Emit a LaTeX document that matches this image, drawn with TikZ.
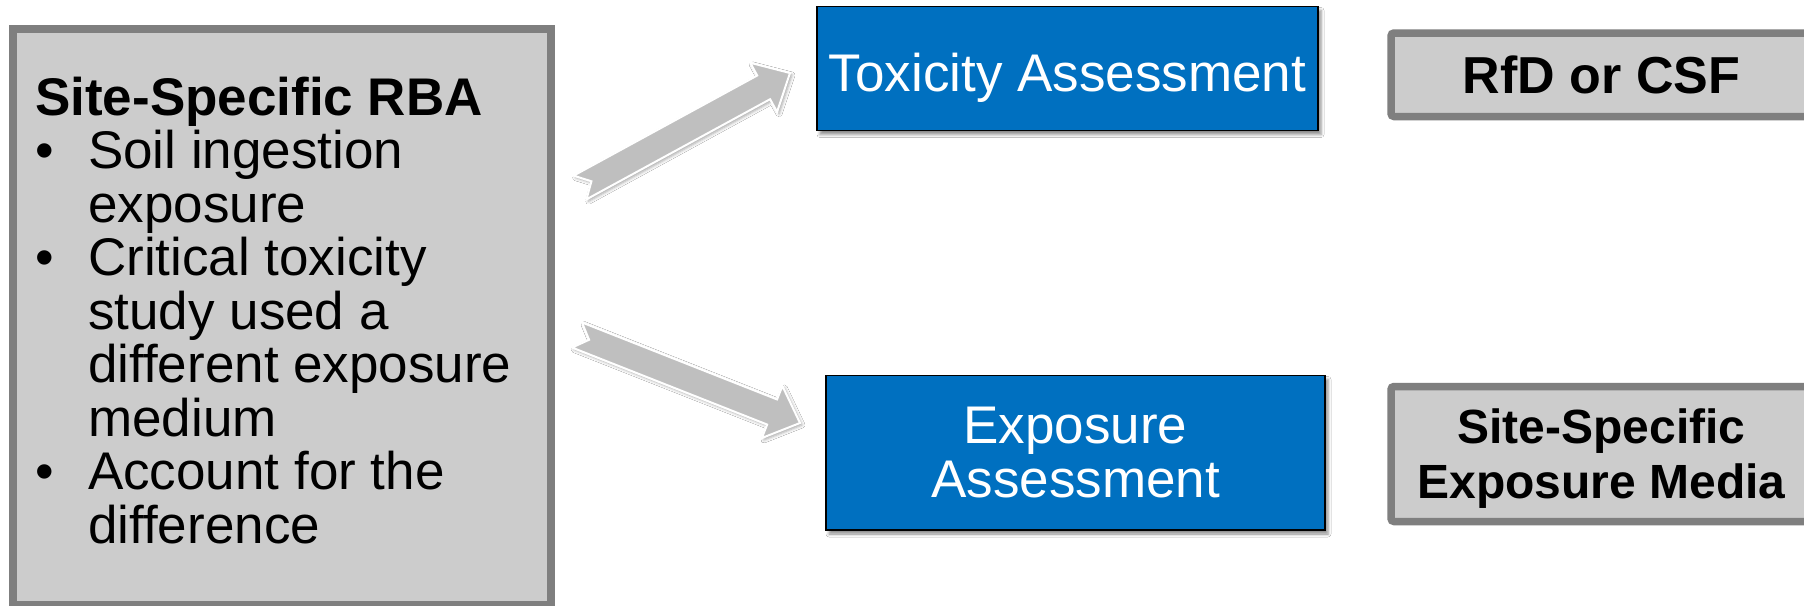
\documentclass[tikz,border=0pt]{standalone}
\usepackage{fontspec}
\setmainfont{Liberation Sans}
\usetikzlibrary{calc,shadows.blur}

\definecolor{boxgray}{HTML}{CCCCCC}
\definecolor{edgegray}{HTML}{7F7F7F}
\definecolor{assessblue}{HTML}{0070C0}
\definecolor{arrowgray}{HTML}{BFBFBF}

% bullet column of the left panel
\newcommand\rbabullet{\makebox[53pt][l]{\textbullet}}
\newcommand\rbaindent{\hspace*{53pt}}

% wide block arrow with a notched tail: #1 name, #2 tail, #3 tip
\newcommand\fatarrow[3]{%
  \coordinate (#1h) at ($(#3)!30pt!(#2)$);
  \path[blockarrow]
    ($(#2)!13.5pt!90:(#3)$) -- ($(#1h)!13.5pt!90:(#3)$) -- ($(#1h)!28pt!90:(#3)$)
    -- (#3)
    -- ($(#1h)!28pt!-90:(#3)$) -- ($(#1h)!13.5pt!-90:(#3)$) -- ($(#2)!13.5pt!-90:(#3)$)
    -- ($(#2)!13pt!(#3)$) -- cycle;
}

\tikzset{
  graybox/.style={draw=edgegray, fill=boxgray, line width=7.5pt, inner sep=0pt, align=center},
  bluebox/.style={draw=black, fill=assessblue, line width=1.5pt, text=white, align=center,
    inner sep=0pt,
    blur shadow={shadow xshift=3pt, shadow yshift=-4pt, shadow blur radius=3pt, shadow opacity=45}},
  bigtext/.style={font=\fontsize{53}{54}\selectfont},
  listtext/.style={font=\fontsize{53}{53.5}\selectfont},
  bigbold/.style={font=\fontsize{52}{54}\selectfont\bfseries},
  medbold/.style={font=\fontsize{48}{55}\selectfont\bfseries},
  blockarrow/.style={fill=arrowgray, draw=white, line width=2pt, line join=miter,
    blur shadow={shadow xshift=2pt, shadow yshift=-2pt, shadow blur radius=3pt, shadow opacity=35}},
}

\begin{document}
\begin{tikzpicture}[x=1pt, y=-1pt]
  \clip (0,0) rectangle (1804,605);
  \fill[white] (0,0) rectangle (1804,605);

  % left panel
  \node[graybox, minimum width=538pt, minimum height=576pt] (rba) at (282,317) {};
  \node[anchor=base west, inner sep=0pt, listtext] (rbatext) at (35,115) {\parbox[t]{510pt}{%
    {\bfseries Site-Specific RBA}\\
    \rbabullet Soil ingestion\\
    \rbaindent exposure\\
    \rbabullet Critical toxicity\\
    \rbaindent study used a\\
    \rbaindent different exposure\\
    \rbaindent medium\\
    \rbabullet Account for the\\
    \rbaindent difference}};

  % assessment boxes
  \node[bluebox, bigtext, text height=45pt, text depth=0pt, minimum width=501pt, minimum height=124pt] (tox) at (1067.5,68.5) {Toxicity Assessment};
  \node[bluebox, bigtext, minimum width=499pt, minimum height=154.5pt] (expo) at (1075.5,452.75) {Exposure\\Assessment};

  % result boxes
  \node[graybox, bigbold, rounded corners=3pt, minimum width=421pt, minimum height=83.5pt] (rfd) at (1601.5,74.75) {RfD or CSF};
  \node[graybox, medbold, text depth=0pt, rounded corners=3pt, minimum width=421pt, minimum height=135pt] (media) at (1601.5,454) {Site-Specific\\Exposure Media};

  % block arrows
  \coordinate (a1tail) at (580,187.5);
  \coordinate (a1tip) at (790,73);
  \coordinate (a2tail) at (577,335);
  \coordinate (a2tip) at (800,423);
  \fatarrow{a1}{a1tail}{a1tip}
  \fatarrow{a2}{a2tail}{a2tip}
\end{tikzpicture}
\end{document}
